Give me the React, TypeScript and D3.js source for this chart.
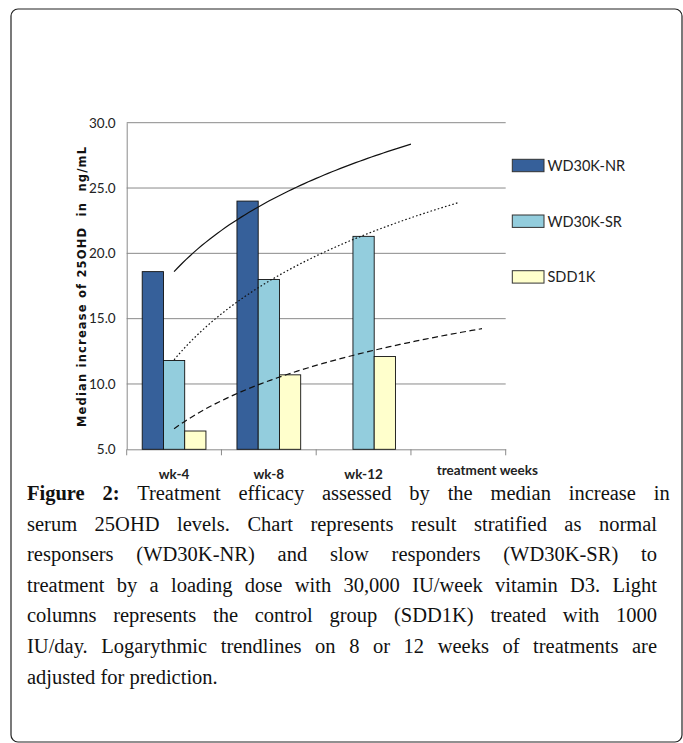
import { useEffect, useRef } from 'react';
import * as d3 from 'd3';

// Chart data
const categories = ['wk-4', 'wk-8', 'wk-12', 'treatment weeks'];
const seriesNames = ['WD30K-NR', 'WD30K-SR', 'SDD1K'];
const nrValues: (number | null)[] = [18.6, 24.0, null, null];
const srValues: (number | null)[] = [11.8, 18.0, 21.3, null];
const sddValues: (number | null)[] = [6.4, 10.7, 12.1, null];
// how far (in category index) each logarithmic trendline is drawn
const trendEnds = [3.5, 4, 4.25];
const yTicks = [5, 10, 15, 20, 25, 30];

const seriesColors = ['#36609A', '#93CDDD', '#FFFFCC'];
const trendDash = ['none', '1.6,2.2', '6,3.5'];

const captionLines = [
  'Treatment efficacy assessed by the median increase in',
  'serum 25OHD levels. Chart represents result stratified as normal',
  'responsers (WD30K-NR) and slow responders (WD30K-SR) to',
  'treatment by a loading dose with 30,000 IU/week vitamin D3. Light',
  'columns represents the control group (SDD1K) treated with 1000',
  'IU/day. Logarythmic trendlines on 8 or 12 weeks of treatments are',
  'adjusted for prediction.',
];

// least squares fit y = a + b ln(x), x = 1-based category index
const logFit = (values: (number | null)[]) => {
  const pts = values
    .map((v, i) => ({ x: Math.log(i + 1), y: v }))
    .filter(p => p.y !== null) as { x: number; y: number }[];
  const mx = d3.mean(pts, p => p.x) || 0;
  const my = d3.mean(pts, p => p.y) || 0;
  const sxy = d3.sum(pts, p => (p.x - mx) * (p.y - my));
  const sxx = d3.sum(pts, p => (p.x - mx) ** 2);
  const b = sxy / sxx;
  return { a: my - b * mx, b };
};

const App = () => {
  const ref = useRef<SVGSVGElement | null>(null);

  useEffect(() => {
    if (!ref.current) return;
    const svg = d3.select(ref.current);
    svg.selectAll('*').remove();

    const chartFont = "Lato, 'Open Sans', sans-serif";
    const serif = "'Liberation Serif', 'DejaVu Serif', serif";

    // Frame
    svg.append('rect')
      .attr('x', 11).attr('y', 9)
      .attr('width', 671).attr('height', 733)
      .attr('rx', 7)
      .attr('fill', 'none')
      .attr('stroke', '#222')
      .attr('stroke-width', 1.2);

    const left = 126.7, right = 505.7, top = 122.7, bottom = 449.3;

    const x = d3.scaleBand<string>()
      .domain(categories)
      .range([left, right])
      .padding(0);

    const inner = d3.scaleBand<string>()
      .domain(seriesNames)
      .range([0, x.bandwidth()])
      .paddingInner(0)
      .paddingOuter(0.73);

    const y = d3.scaleLinear()
      .domain([5, 30])
      .range([bottom, top]);

    // Gridlines
    svg.append('g')
      .selectAll('line')
      .data(yTicks.slice(1))
      .enter()
      .append('line')
      .attr('x1', left).attr('x2', right)
      .attr('y1', d => y(d)).attr('y2', d => y(d))
      .attr('stroke', '#8a8a8a')
      .attr('stroke-width', 1);

    // Y axis
    const yAxis = svg.append('g')
      .attr('transform', `translate(${left},0)`)
      .call(d3.axisLeft(y).tickValues(yTicks).tickSize(0).tickPadding(11).tickFormat(d3.format('.1f')));
    yAxis.select('.domain').attr('stroke', '#8a8a8a');
    yAxis.selectAll('text')
      .style('font-family', chartFont)
      .style('font-size', '13.5px')
      .attr('fill', '#222');

    // X axis
    const xAxis = svg.append('g')
      .attr('transform', `translate(0,${bottom})`)
      .call(d3.axisBottom(x).tickSize(0).tickPadding(0));
    xAxis.select('.domain').attr('stroke', '#8a8a8a');
    xAxis.selectAll('.tick').remove();
    const edges = categories.map(c => x(c) || 0).concat([right]);
    xAxis.selectAll('line.edge')
      .data(edges)
      .enter()
      .append('line')
      .attr('class', 'edge')
      .attr('x1', d => d).attr('x2', d => d)
      .attr('y1', 0).attr('y2', 6)
      .attr('stroke', '#8a8a8a');
    xAxis.selectAll('text.cat')
      .data(categories)
      .enter()
      .append('text')
      .attr('class', 'cat')
      .attr('x', (d, i) => (x(d) || 0) + x.bandwidth() / 2 + (i === 3 ? 29 : 0))
      .attr('y', (d, i) => (i === 3 ? 26 : 30))
      .attr('text-anchor', 'middle')
      .style('font-family', chartFont)
      .style('font-size', '13.5px')
      .style('font-weight', 'bold')
      .attr('fill', '#222')
      .text(d => d);

    // Y axis title
    svg.append('text')
      .attr('transform', `translate(86,287) rotate(-90)`)
      .attr('text-anchor', 'middle')
      .attr('textLength', 280)
      .style('font-family', "'DejaVu Sans', sans-serif")
      .style('font-size', '11.5px')
      .style('font-weight', 'bold')
      .style('white-space', 'pre')
      .attr('fill', '#111')
      .text('Median increase of 25OHD  in  ng/mL');

    // Bars
    const allSeries = [nrValues, srValues, sddValues];
    allSeries.forEach((vals, s) => {
      svg.append('g')
        .selectAll('rect')
        .data(vals.map((v, i) => ({ v, c: categories[i] })).filter(d => d.v !== null))
        .enter()
        .append('rect')
        .attr('x', d => (x(d.c) || 0) + (inner(seriesNames[s]) || 0))
        .attr('y', d => y(d.v as number))
        .attr('width', inner.bandwidth())
        .attr('height', d => bottom - y(d.v as number))
        .attr('fill', seriesColors[s])
        .attr('stroke', '#111')
        .attr('stroke-width', 0.9);
    });

    // Logarithmic trendlines
    const xi = d3.scaleLinear()
      .domain([1, 2])
      .range([(x(categories[0]) || 0) + x.bandwidth() / 2, (x(categories[1]) || 0) + x.bandwidth() / 2]);
    allSeries.forEach((vals, s) => {
      const { a, b } = logFit(vals);
      const pts = d3.range(0, 61).map(k => 1 + (trendEnds[s] - 1) * k / 60);
      const line = d3.line<number>()
        .x(t => xi(t))
        .y(t => y(a + b * Math.log(t)));
      svg.append('path')
        .attr('d', line(pts))
        .attr('fill', 'none')
        .attr('stroke', '#111')
        .attr('stroke-width', 1.2)
        .attr('stroke-dasharray', trendDash[s]);
    });

    // Legend
    const legend = svg.append('g');
    seriesNames.forEach((name, s) => {
      const ly = 159.3 + s * 55.7;
      legend.append('rect')
        .attr('x', 512.3).attr('y', ly)
        .attr('width', 31.7).attr('height', 12.4)
        .attr('fill', seriesColors[s])
        .attr('stroke', '#333')
        .attr('stroke-width', 1);
      legend.append('text')
        .attr('x', 547.5).attr('y', ly + 11.5)
        .style('font-family', chartFont)
        .style('font-size', '14.5px')
        .attr('fill', '#222')
        .text(name);
    });

    // Caption, justified lines
    const capLeft = 27, capWidth = 630;
    captionLines.forEach((line, i) => {
      const t = svg.append('text')
        .attr('x', capLeft)
        .attr('y', 500 + i * 30.6)
        .style('font-family', serif)
        .style('font-size', '20.5px')
        .style('white-space', 'pre')
        .attr('fill', '#111');
      let spaces = (line.match(/ /g) || []).length;
      if (i === 0) {
        t.append('tspan').style('font-weight', 'bold').text('Figure 2:');
        t.append('tspan').text(' ' + line);
        spaces += 1;
      } else {
        t.text(line);
      }
      if (i < captionLines.length - 1) {
        const len = (t.node() as SVGTextElement).getComputedTextLength();
        t.attr('word-spacing', (capWidth - len) / spaces);
      }
    });
  }, []);

  return (
    <div style={{ position: 'absolute', left: 0, top: 0 }}>
      <svg ref={ref} width={683} height={743} style={{ display: 'block', background: '#fff' }} />
    </div>
  );
};

export default App;
